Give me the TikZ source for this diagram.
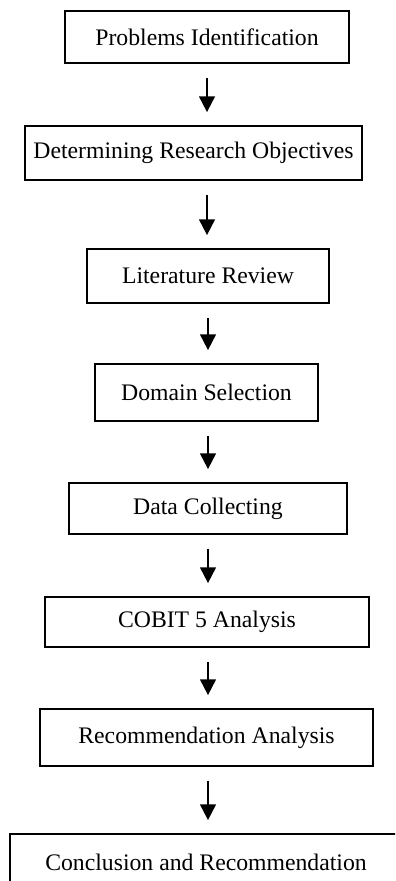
\documentclass[tikz,border=0pt]{standalone}
\usepackage{fontspec}
\setmainfont{Liberation Serif}
\usetikzlibrary{arrows.meta}
\begin{document}
\begin{tikzpicture}[x=0.02cm, y=-0.02cm,
    stagebox/.style={draw, rectangle, line width=1pt, inner sep=0pt,
      font=\fontsize{13.5}{16}\selectfont},
    flowarrow/.style={-{Triangle[width=9pt,length=9pt]}, line width=1.1pt,
      shorten <=0.28cm, shorten >=0.26cm}]
    \clip (0,0) rectangle (395,881);
    \useasboundingbox (0,0) rectangle (395,881);

    % Stages
    \node[stagebox, minimum width=5.68cm, minimum height=1.04cm] (ident) at (207,37) {Problems Identification};
    \node[stagebox, minimum width=6.74cm, minimum height=1.08cm] (obj) at (193.5,153) {Determining Research Objectives};
    \node[stagebox, minimum width=4.84cm, minimum height=1.08cm] (lit) at (208,276) {Literature Review};
    \node[stagebox, minimum width=4.46cm, minimum height=1.14cm] (domain) at (206.5,392.5) {Domain Selection};
    \node[stagebox, minimum width=5.56cm, minimum height=1.02cm] (data) at (208,508.5) {Data Collecting};
    \node[stagebox, minimum width=6.48cm, minimum height=1.00cm] (cobit) at (207,622) {COBIT 5 Analysis};
    \node[stagebox, minimum width=6.66cm, minimum height=1.14cm] (recan) at (206.5,737.5) {Recommendation Analysis};
    \node[stagebox, minimum width=7.84cm, minimum height=1.12cm] (concl) at (206,862) {Conclusion and Recommendation};

    % Arrows
    \draw[flowarrow] (ident.south) -- (ident.south |- obj.north);
    \draw[flowarrow] (ident.south |- obj.south) -- (ident.south |- lit.north);
    \draw[flowarrow] (lit.south) -- (lit.south |- domain.north);
    \draw[flowarrow] (lit.south |- domain.south) -- (lit.south |- data.north);
    \draw[flowarrow] (data.south) -- (data.south |- cobit.north);
    \draw[flowarrow] (data.south |- cobit.south) -- (data.south |- recan.north);
    \draw[flowarrow] (data.south |- recan.south) -- (data.south |- concl.north);
\end{tikzpicture}
\end{document}
